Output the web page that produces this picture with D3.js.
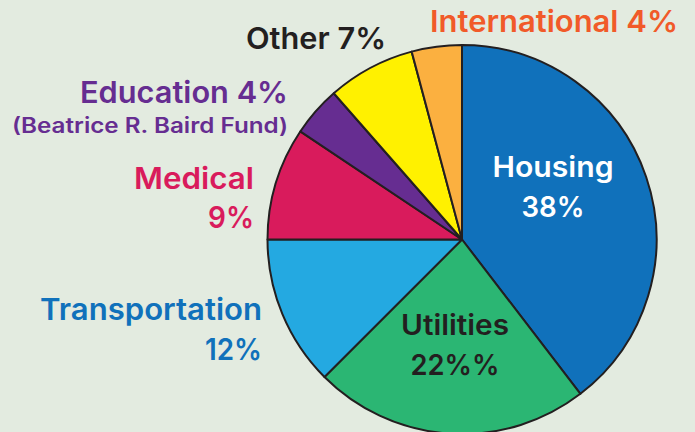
<!DOCTYPE html>
<html>
<head>
<meta charset="utf-8">
<script src="https://cdn.jsdelivr.net/npm/d3@7"></script>
<style>
  html, body { margin: 0; padding: 0; background: #e3ebe0; }
  svg { display: block; }
  text { font-family: "Inter", "Lato", sans-serif; font-weight: 600; }
</style>
</head>
<body>
<div id="chart"></div>
<script>
// budget shares, clockwise from 12 o'clock
const categories = ["Housing", "Utilities", "Transportation", "Medical", "Education", "Other", "International"];
const shares = [38, 22, 12, 9, 4, 7, 4];
const sliceColors = ["#1071bb", "#2bb673", "#24a9e1", "#d91b5c", "#662d91", "#fff100", "#fbb040"];
const labelLines = [
    ["Housing", "38%"],
    ["Utilities", "22%%"],
    ["Transportation", "12%"],
    ["Medical", "9%"],
    ["Education 4%", "(Beatrice R. Baird Fund)"],
    ["Other 7%"],
    ["International 4%"]
];
const labelColors = ["#ffffff", "#231f20", "#1071bb", "#d91b5c", "#662d91", "#231f20", "#f15a29"];

const width = 695, height = 432;
const cx = 462, cy = 239.5, radius = 194.5;

// where each label block sits (x, first baseline, anchor, line gap, target widths)
const labelLayout = [
    {x: 553, y: 177, anchor: "middle", gap: 40, sizes: [29, 29], widths: [121, 63]},
    {x: 455, y: 335, anchor: "middle", gap: 40, sizes: [28, 29], widths: [108, 89]},
    {x: 262, y: 320, anchor: "end", gap: 40, sizes: [30, 30], widths: [222, 57]},
    {x: 254, y: 189, anchor: "end", gap: 39, sizes: [30, 30], widths: [120, 46]},
    {x: 288, y: 103, anchor: "end", gap: 30, sizes: [30, 21], widths: [208, 276]},
    {x: 386, y: 49, anchor: "end", gap: 0, sizes: [30], widths: [140]},
    {x: 678, y: 32, anchor: "end", gap: 0, sizes: [30], widths: [248]}
];

const svg = d3.select("#chart")
    .append("svg")
    .attr("width", width)
    .attr("height", height);

const g = svg.append("g")
    .attr("transform", `translate(${cx},${cy})`);

const pie = d3.pie()
    .sort(null)
    .value(d => d);

const arc = d3.arc()
    .innerRadius(0)
    .outerRadius(radius);

const arcs = pie(shares);

g.selectAll("path")
    .data(arcs)
    .enter()
    .append("path")
    .attr("d", arc)
    .attr("fill", (d, i) => sliceColors[i])
    .attr("stroke", "#231f20")
    .attr("stroke-width", 2)
    .attr("stroke-linejoin", "round");

// labels
categories.forEach((c, i) => {
    const L = labelLayout[i];
    labelLines[i].forEach((line, j) => {
        svg.append("text")
            .attr("x", L.x)
            .attr("y", L.y + j * L.gap)
            .attr("text-anchor", L.anchor)
            .attr("font-size", L.sizes[j])
            .attr("fill", labelColors[i])
            .attr("textLength", L.widths[j])
            .attr("lengthAdjust", "spacingAndGlyphs")
            .text(line);
    });
});
</script>
</body>
</html>
